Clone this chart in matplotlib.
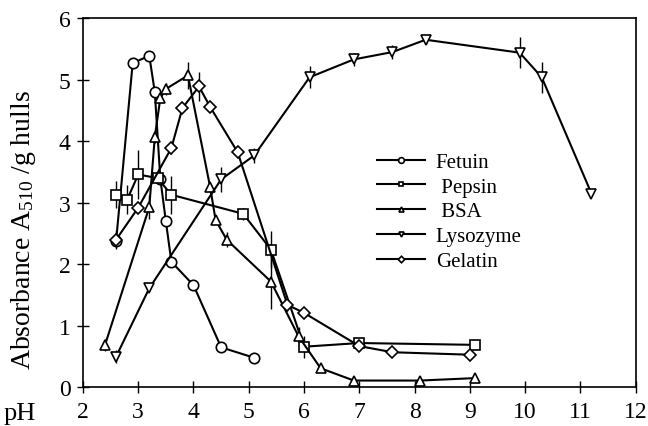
import matplotlib
matplotlib.use("Agg")
import matplotlib.pyplot as plt

plt.rcParams['font.family'] = ['Liberation Serif', 'DejaVu Serif']
plt.rcParams['mathtext.fontset'] = 'custom'
plt.rcParams['mathtext.rm'] = 'Liberation Serif'
plt.rcParams['mathtext.it'] = 'Liberation Serif:italic'

# Data (pH, absorbance, error)
fetuin_x = [2.6, 2.9, 3.2, 3.3, 3.4, 3.5, 3.6, 4.0, 4.5, 5.1]
fetuin_y = [2.38, 5.27, 5.39, 4.80, 3.39, 2.70, 2.04, 1.66, 0.65, 0.48]
fetuin_e = [0.0, 0.0, 0.0, 0.0, 0.0, 0.0, 0.0, 0.08, 0.0, 0.0]

pepsin_x = [2.6, 2.8, 3.0, 3.35, 3.6, 4.9, 5.4, 6.0, 7.0, 9.1]
pepsin_y = [3.13, 3.05, 3.46, 3.40, 3.13, 2.82, 2.24, 0.66, 0.72, 0.69]
pepsin_e = [0.22, 0.24, 0.40, 0.0, 0.31, 0.10, 0.30, 0.18, 0.05, 0.0]

bsa_x = [2.4, 3.2, 3.3, 3.4, 3.5, 3.9, 4.3, 4.4, 4.6, 5.4, 5.9, 6.3, 6.9, 8.1, 9.1]
bsa_y = [0.69, 2.93, 4.07, 4.70, 4.85, 5.07, 3.26, 2.72, 2.40, 1.72, 0.83, 0.31, 0.11, 0.11, 0.15]
bsa_e = [0.1, 0.2, 0.1, 0.0, 0.1, 0.22, 0.0, 0.0, 0.12, 0.45, 0.15, 0.0, 0.0, 0.0, 0.0]

lyso_x = [2.6, 3.2, 4.5, 5.1, 6.1, 6.9, 7.6, 8.2, 9.9, 10.3, 11.2]
lyso_y = [0.50, 1.61, 3.38, 3.77, 5.04, 5.33, 5.45, 5.65, 5.44, 5.04, 3.15]
lyso_e = [0.1, 0.05, 0.2, 0.12, 0.18, 0.1, 0.12, 0.07, 0.25, 0.25, 0.0]

gel_x = [2.6, 3.0, 3.6, 3.8, 4.1, 4.3, 4.8, 5.7, 6.0, 7.0, 7.6, 9.0]
gel_y = [2.40, 2.92, 3.89, 4.54, 4.89, 4.56, 3.82, 1.34, 1.21, 0.67, 0.57, 0.53]
gel_e = [0.15, 0.05, 0.1, 0.05, 0.23, 0.08, 0.0, 0.1, 0.0, 0.0, 0.0, 0.0]

labels = ["Fetuin", " Pepsin", " BSA", "Lysozyme", "Gelatin"]
markers = ["o", "s", "^", "v", "D"]
msizes = [7.5, 6.5, 6.5, 6.5, 6.0]

fig = plt.figure(figsize=(6.48, 4.27), dpi=100)
ax = fig.add_axes([0.128, 0.0906, 0.853, 0.8644])

series = [(fetuin_x, fetuin_y, fetuin_e), (pepsin_x, pepsin_y, pepsin_e),
          (bsa_x, bsa_y, bsa_e), (lyso_x, lyso_y, lyso_e), (gel_x, gel_y, gel_e)]

handles = []
for (x, y, e), lab, m, ms in zip(series, labels, markers, msizes):
    ax.errorbar(x, y, yerr=e, fmt='none', ecolor='black', elinewidth=1.0, capsize=0, zorder=2)
    h, = ax.plot(x, y, color='black', lw=1.5, marker=m, markersize=ms,
                 markerfacecolor='white', markeredgecolor='black', markeredgewidth=1.2,
                 label=lab, zorder=3)
    handles.append(h)

ax.set_xlim(2, 12)
ax.set_ylim(0, 6)
ax.set_xticks(range(2, 13))
ax.set_yticks(range(0, 7))
ax.tick_params(axis='x', direction='inout', length=8, width=1, labelsize=17, pad=6)
ax.tick_params(axis='y', direction='inout', length=8, width=1, labelsize=17, pad=5)
for s in ax.spines.values():
    s.set_linewidth(1.2)

ax.set_ylabel("Absorbance A$_{510}$ /g hulls", fontsize=20)
ax.yaxis.set_label_coords(-0.082, 0.43)
fig.text(0.005, 0.005, "pH", fontsize=19, ha='left', va='bottom')

leg = ax.legend(handles=handles, loc='upper left', bbox_to_anchor=(0.514, 0.665),
                frameon=False, fontsize=15, markerscale=0.55, handlelength=2.3,
                handletextpad=0.5, labelspacing=0.25, borderpad=0)

fig.savefig("out.png", dpi=100)
